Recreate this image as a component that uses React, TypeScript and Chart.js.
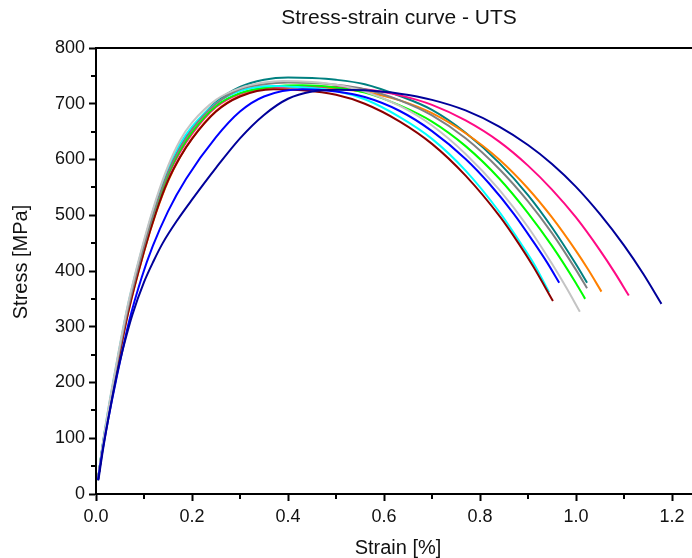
import React, { useEffect, useRef } from "react";
import { Chart, registerables } from "chart.js";

Chart.register(...registerables);

const FONT = "'Liberation Sans', Arial, sans-serif";

const chartTitle = "Stress-strain curve - UTS";
const xTitle = "Strain [%]";
const yTitle = "Stress [MPa]";

const xMajorTicks = [0, 0.2, 0.4, 0.6, 0.8, 1.0, 1.2];
const xMinorTicks = [0.1, 0.3, 0.5, 0.7, 0.9, 1.1];
const yMajorTicks = [0, 100, 200, 300, 400, 500, 600, 700, 800];
const yMinorTicks = [50, 150, 250, 350, 450, 550, 650, 750];

const navyStrain = [0.005, 0.015, 0.03, 0.045, 0.06, 0.076, 0.1, 0.12, 0.139, 0.17, 0.2, 0.25, 0.3, 0.35, 0.4, 0.45, 0.5, 0.56, 0.633, 0.7, 0.77, 0.84, 0.9, 0.95, 1.0, 1.05, 1.1, 1.14, 1.178];
const navyStress = [25, 82, 155, 220, 273, 322, 380, 418, 450, 492, 528, 585, 638, 680, 709, 722, 725, 724, 718, 707, 688, 659, 626, 592, 551, 502, 446, 395, 341];

const blueStrain = [0.004, 0.014, 0.025, 0.042, 0.069, 0.095, 0.118, 0.15, 0.1875, 0.25, 0.3, 0.35, 0.43, 0.5, 0.56, 0.633, 0.7, 0.77, 0.82, 0.87, 0.91, 0.94, 0.965];
const blueStress = [25, 80, 132, 205, 310, 388, 444, 507, 565, 640, 686, 713, 726, 722, 712, 687, 651, 601, 556, 503, 454, 415, 379];

const lightGrayStrain = [0.004, 0.014, 0.025, 0.04, 0.066, 0.1, 0.125, 0.15, 0.175, 0.2, 0.25, 0.3, 0.35, 0.39, 0.45, 0.5, 0.56, 0.633, 0.7, 0.77, 0.84, 0.9, 0.95, 0.98, 1.008];
const lightGrayStress = [25, 90, 150, 222, 338, 455, 528, 588, 634, 666, 707, 728, 738, 741, 739, 734, 722, 696, 661, 610, 546, 479, 413, 370, 327];

const grayStrain = [0.004, 0.014, 0.025, 0.04, 0.066, 0.1, 0.125, 0.15, 0.175, 0.2, 0.25, 0.3, 0.35, 0.4, 0.45, 0.5, 0.56, 0.633, 0.7, 0.77, 0.84, 0.9, 0.95, 1.0, 1.023];
const grayStress = [25, 87, 144, 216, 330, 445, 517, 577, 621, 654, 700, 726, 735, 738, 737, 734, 726, 706, 679, 638, 583, 525, 468, 402, 369];

const darkRedStrain = [0.004, 0.014, 0.025, 0.04, 0.066, 0.1, 0.125, 0.15, 0.175, 0.2, 0.25, 0.3, 0.37, 0.43, 0.5, 0.56, 0.633, 0.7, 0.77, 0.842, 0.88, 0.911, 0.952];
const darkRedStress = [25, 85, 140, 210, 322, 435, 505, 562, 604, 637, 686, 713, 726, 724, 716, 700, 668, 628, 571, 497, 450, 408, 346];

const cyanStrain = [0.004, 0.014, 0.025, 0.04, 0.066, 0.1, 0.125, 0.15, 0.175, 0.2, 0.25, 0.3, 0.37, 0.42, 0.5, 0.56, 0.633, 0.7, 0.77, 0.842, 0.88, 0.911, 0.944];
const cyanStress = [25, 89, 148, 220, 336, 452, 525, 584, 628, 659, 701, 723, 732, 730, 723, 708, 676, 637, 580, 504, 456, 415, 362];

const greenStrain = [0.004, 0.014, 0.025, 0.04, 0.066, 0.1, 0.125, 0.15, 0.175, 0.2, 0.25, 0.3, 0.37, 0.43, 0.5, 0.56, 0.633, 0.7, 0.77, 0.84, 0.9, 0.95, 1.0, 1.019];
const greenStress = [25, 87, 143, 215, 328, 442, 514, 573, 616, 649, 696, 719, 731, 733, 729, 720, 697, 668, 624, 566, 504, 445, 378, 350];

const pinkStrain = [0.004, 0.014, 0.025, 0.04, 0.066, 0.1, 0.125, 0.15, 0.175, 0.2, 0.25, 0.3, 0.37, 0.43, 0.5, 0.56, 0.633, 0.7, 0.77, 0.84, 0.9, 0.95, 1.0, 1.05, 1.08, 1.11];
const pinkStress = [25, 86, 142, 213, 326, 440, 511, 570, 613, 646, 694, 718, 730, 731, 730, 726, 715, 698, 670, 632, 589, 546, 496, 437, 398, 356];

const orangeStrain = [0.004, 0.014, 0.025, 0.04, 0.066, 0.1, 0.125, 0.15, 0.175, 0.2, 0.25, 0.3, 0.37, 0.43, 0.5, 0.56, 0.633, 0.7, 0.77, 0.84, 0.9, 0.95, 1.0, 1.025, 1.053];
const orangeStress = [25, 84, 139, 209, 321, 434, 504, 561, 604, 638, 687, 714, 729, 729, 727, 721, 706, 683, 647, 600, 548, 496, 436, 403, 363];

const tealStrain = [0.004, 0.014, 0.025, 0.04, 0.066, 0.1, 0.125, 0.15, 0.175, 0.2, 0.25, 0.3, 0.35, 0.4, 0.45, 0.5, 0.56, 0.633, 0.7, 0.77, 0.84, 0.9, 0.95, 1.0, 1.023];
const tealStress = [25, 88, 145, 217, 331, 446, 518, 578, 622, 655, 703, 730, 743, 747, 746, 743, 735, 714, 689, 648, 594, 536, 478, 412, 379];

const seriesList = [
  { strain: navyStrain, stress: navyStress, color: "#00009a" },
  { strain: blueStrain, stress: blueStress, color: "#0000ff" },
  { strain: lightGrayStrain, stress: lightGrayStress, color: "#c4c4c4" },
  { strain: grayStrain, stress: grayStress, color: "#808080" },
  { strain: darkRedStrain, stress: darkRedStress, color: "#8b0000" },
  { strain: cyanStrain, stress: cyanStress, color: "#00ffff" },
  { strain: greenStrain, stress: greenStress, color: "#00ff00" },
  { strain: pinkStrain, stress: pinkStress, color: "#ff0a84" },
  { strain: orangeStrain, stress: orangeStress, color: "#ff8000" },
  { strain: tealStrain, stress: tealStress, color: "#008080" },
];

const W = 692;
const H = 558;

const framePlugin = {
  id: "frame",
  afterDraw(chart: any) {
    const { ctx, chartArea, scales } = chart;
    const { left, right, top, bottom } = chartArea;
    const xs = scales.x;
    const ys = scales.y;
    ctx.save();
    ctx.strokeStyle = "#000";
    ctx.lineWidth = 2;
    ctx.beginPath();
    ctx.moveTo(left - 1, top);
    ctx.lineTo(right, top);
    for (const v of xMinorTicks) {
      const px = Math.round(xs.getPixelForValue(v));
      ctx.moveTo(px, bottom);
      ctx.lineTo(px, bottom + 5);
    }
    for (const v of yMinorTicks) {
      const py = Math.round(ys.getPixelForValue(v));
      ctx.moveTo(left, py);
      ctx.lineTo(left - 5, py);
    }
    ctx.stroke();

    ctx.fillStyle = "#111";
    ctx.textAlign = "center";
    ctx.textBaseline = "middle";
    ctx.font = `21px ${FONT}`;
    ctx.fillText(chartTitle, 399, 18);
    ctx.font = `20px ${FONT}`;
    ctx.fillText(xTitle, 398, 548);
    ctx.translate(21, 262);
    ctx.rotate(-Math.PI / 2);
    ctx.fillText(yTitle, 0, 0);
    ctx.restore();
  },
};

export default function App() {
  const ref = useRef<HTMLCanvasElement>(null);

  useEffect(() => {
    if (!ref.current) return;
    const datasets = seriesList.map((s) => ({
      data: s.strain.map((x, i) => ({ x, y: s.stress[i] })),
      borderColor: s.color,
      backgroundColor: s.color,
      borderWidth: 2,
      pointRadius: 0,
      fill: false,
      cubicInterpolationMode: "monotone" as const,
    }));
    const chart = new Chart(ref.current, {
      type: "line",
      data: { datasets },
      options: {
        responsive: false,
        animation: false,
        layout: { padding: { top: 48, right: 0, left: 0, bottom: 0 } },
        plugins: {
          legend: { display: false },
          tooltip: { enabled: false },
          title: { display: false },
        },
        scales: {
          x: {
            type: "linear",
            min: 0,
            max: 596 / 480,
            afterBuildTicks: (s: any) => {
              s.ticks = xMajorTicks.map((v) => ({ value: v }));
            },
            afterFit: (s: any) => {
              s.height = 64;
            },
            grid: { drawOnChartArea: false, tickLength: 7, tickWidth: 2, tickColor: "#000" },
            border: { color: "#000", width: 2 },
            ticks: {
              color: "#111",
              font: { family: FONT, size: 18 },
              padding: 5,
              autoSkip: false,
              maxRotation: 0,
              callback: (v: any) => Number(v).toFixed(1),
            },
          },
          y: {
            type: "linear",
            min: 0,
            max: 800,
            afterBuildTicks: (s: any) => {
              s.ticks = yMajorTicks.map((v) => ({ value: v }));
            },
            afterFit: (s: any) => {
              s.width = 96;
            },
            grid: { drawOnChartArea: false, tickLength: 7, tickWidth: 2, tickColor: "#000" },
            border: { color: "#000", width: 2 },
            ticks: {
              color: "#111",
              font: { family: FONT, size: 18 },
              padding: 4,
              autoSkip: false,
              callback: (v: any) => String(v),
            },
          },
        },
      },
      plugins: [framePlugin],
    });
    return () => chart.destroy();
  }, []);

  return (
    <div style={{ position: "fixed", left: 0, top: 0, width: W, height: H, background: "#fff" }}>
      <canvas ref={ref} width={W} height={H} style={{ width: W, height: H, display: "block" }} />
    </div>
  );
}
